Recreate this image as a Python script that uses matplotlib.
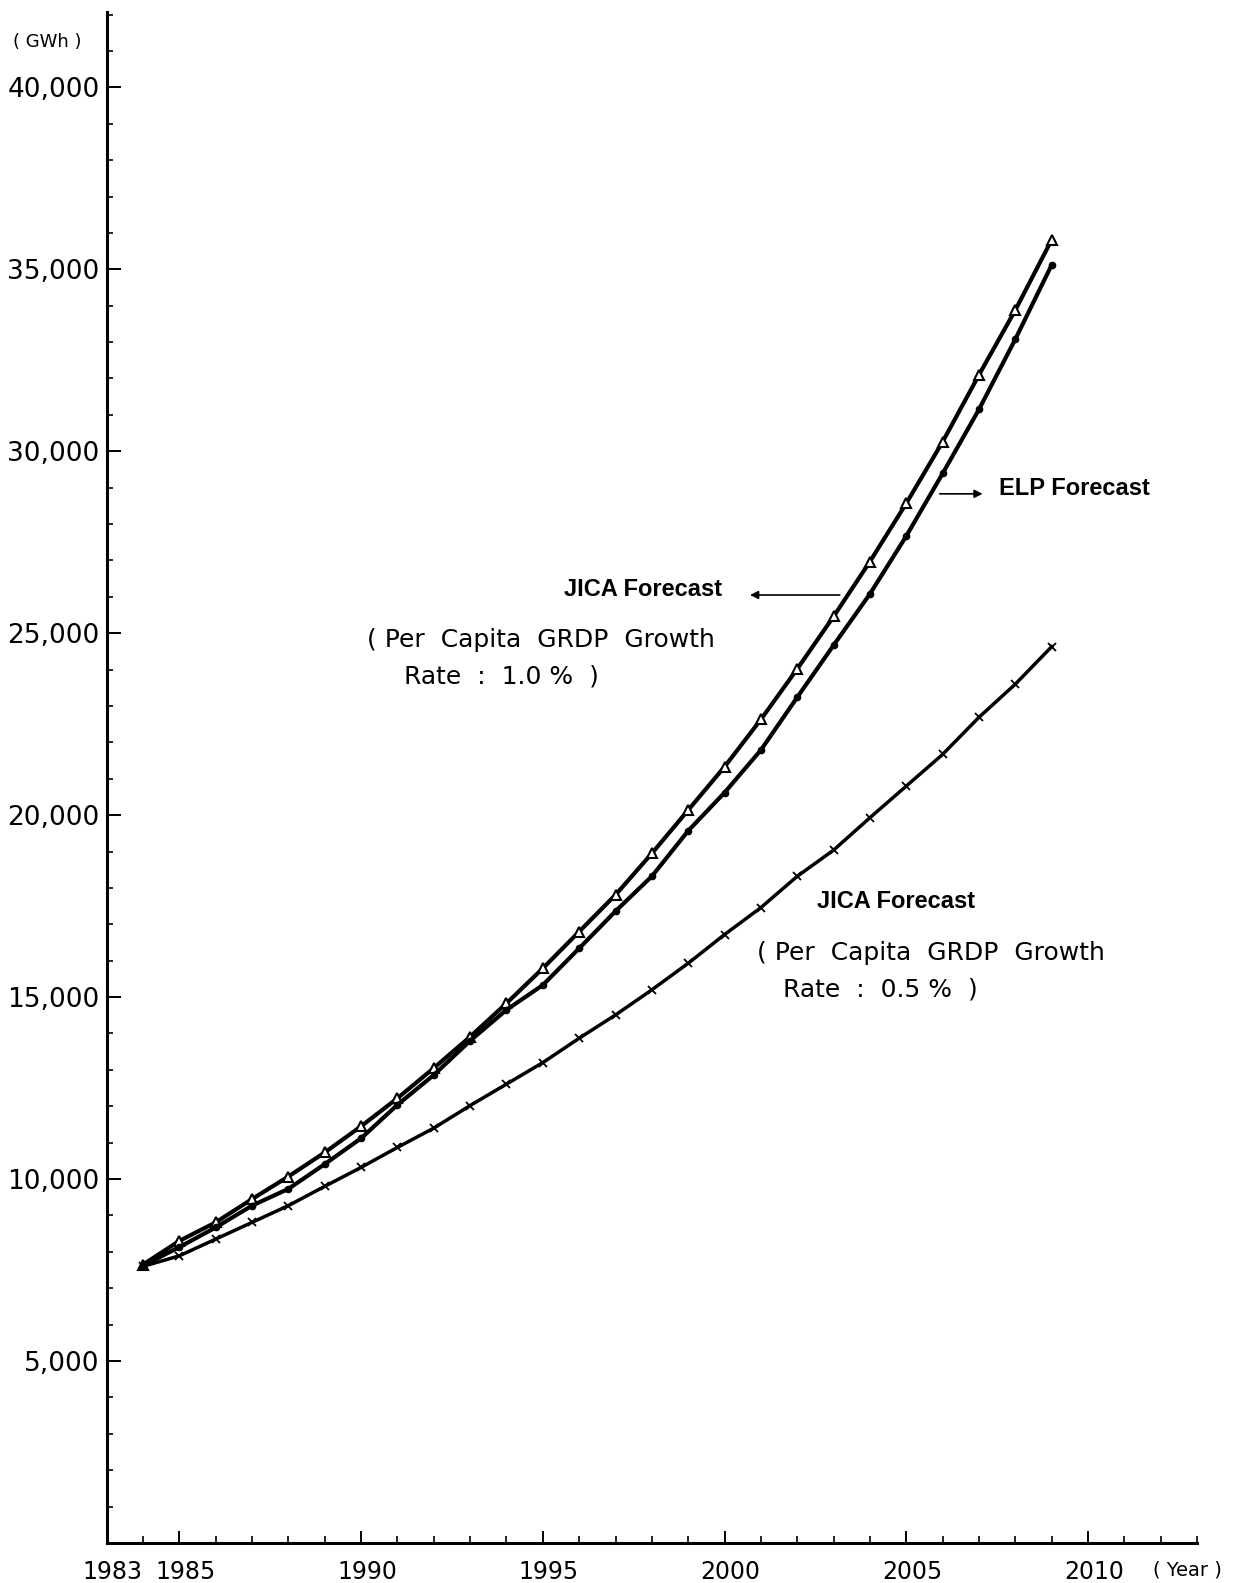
import matplotlib
matplotlib.use("Agg")
import matplotlib.pyplot as plt
from matplotlib.ticker import MultipleLocator, FixedLocator, FuncFormatter
from matplotlib.transforms import ScaledTranslation

# Electricity demand forecast, 1984-2009 (GWh)
years = list(range(1984, 2010))

jica_10 = [7650, 8300, 8810, 9450, 10070, 10730, 11450, 12220, 13050, 13910,
           14830, 15790, 16800, 17810, 18950, 20140, 21330, 22630, 24020, 25460,
           26970, 28570, 30260, 32100, 33880, 35810]

elp = [7620, 8130, 8670, 9270, 9730, 10410, 11120, 12040, 12860, 13800,
       14650, 15330, 16340, 17360, 18320, 19570, 20620, 21790, 23240, 24670,
       26080, 27670, 29390, 31150, 33080, 35120]

jica_05 = [7600, 7890, 8350, 8810, 9270, 9800, 10320, 10870, 11400, 12020,
           12610, 13200, 13870, 14510, 15200, 15930, 16720, 17460, 18320, 19040,
           19930, 20800, 21670, 22690, 23600, 24630]

x_tick_labels = [1983, 1985, 1990, 1995, 2000, 2005, 2010]
y_tick_values = [5000, 10000, 15000, 20000, 25000, 30000, 35000, 40000]

fig = plt.figure(figsize=(12.36, 15.83), dpi=100)
ax = fig.add_axes([0.0863, 0.0253, 0.8822, 0.9671])

lw = 3.0
ax.plot(years, jica_10, color="black", lw=lw, marker="^", ms=7.5,
        mfc="white", mec="black", mew=1.5, zorder=3)
ax.plot(years, elp, color="black", lw=lw, marker="o", ms=4.5,
        mfc="black", mec="black", zorder=3)
ax.plot(years, jica_05, color="black", lw=lw - 0.5, marker="x", ms=6,
        mec="black", mew=1.3, zorder=3)

ax.set_xlim(1983, 2013)
ax.set_ylim(0, 42070)

for side in ("top", "right"):
    ax.spines[side].set_visible(False)
for side in ("left", "bottom"):
    ax.spines[side].set_linewidth(2.2)

# x axis: yearly minor ticks, labelled years
ax.xaxis.set_major_locator(FixedLocator(x_tick_labels))
ax.xaxis.set_minor_locator(MultipleLocator(1))
ax.set_xticklabels([str(v) for v in x_tick_labels])
ax.tick_params(axis="x", which="major", direction="in", length=9, width=1.4,
               labelsize=17, pad=12)
ax.tick_params(axis="x", which="minor", direction="in", length=5, width=1.2)
shift = ScaledTranslation(6 / 100, 0, fig.dpi_scale_trans)
for lab in ax.get_xticklabels():
    lab.set_transform(lab.get_transform() + shift)

# y axis: thousand-step minor ticks
ax.yaxis.set_major_locator(FixedLocator(y_tick_values))
ax.yaxis.set_minor_locator(MultipleLocator(1000))
ax.yaxis.set_major_formatter(FuncFormatter(lambda v, p: f"{int(v):,}"))
ax.tick_params(axis="y", which="major", direction="in", length=10, width=1.4,
               labelsize=19, pad=5)
ax.tick_params(axis="y", which="minor", direction="in", length=4, width=1.2)

# Units
fig.text(13 / 1236, 1 - 42 / 1583, "( GWh )", fontsize=13, va="center", ha="left")
fig.text(1187 / 1236, 1 - 1570 / 1583, "( Year )", fontsize=14, va="center", ha="center")

# Annotations
bold = dict(fontsize=17, fontweight="bold", family="Liberation Sans")
plain = dict(fontsize=18)

ax.text(1997.76, 26190, "JICA Forecast", ha="center", va="center", **bold)
ax.annotate("", xy=(2000.70, 26050), xytext=(2003.17, 26050),
            arrowprops=dict(arrowstyle="-|>", color="black", lw=1.2,
                            mutation_scale=12, shrinkA=0, shrinkB=0))
ax.text(1990.16, 24820, "( Per  Capita  GRDP  Growth", ha="left", va="center", **plain)
ax.text(1991.18, 23800, "Rate  :  1.0 %  )", ha="left", va="center", **plain)

ax.text(2007.55, 28990, "ELP Forecast", ha="left", va="center", **bold)
ax.annotate("", xy=(2007.10, 28830), xytext=(2005.92, 28830),
            arrowprops=dict(arrowstyle="-|>", color="black", lw=1.2,
                            mutation_scale=12, shrinkA=0, shrinkB=0))

ax.text(2002.53, 17640, "JICA Forecast", ha="left", va="center", **bold)
ax.text(2000.88, 16210, "( Per  Capita  GRDP  Growth", ha="left", va="center", **plain)
ax.text(2001.60, 15200, "Rate  :  0.5 %  )", ha="left", va="center", **plain)

fig.savefig("out.png", dpi=100, facecolor="white")
